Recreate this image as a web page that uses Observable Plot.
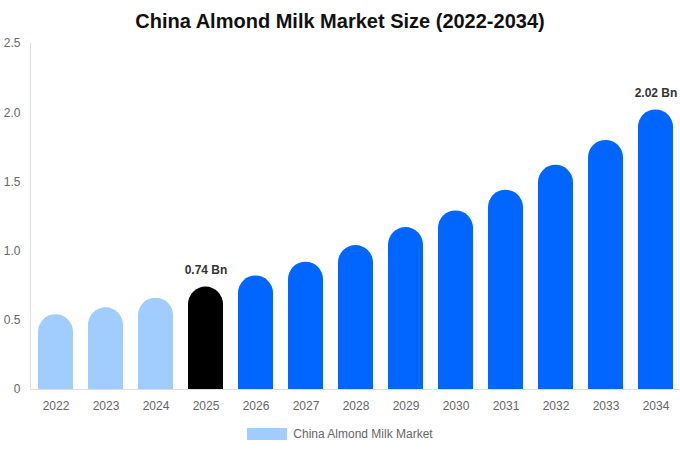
<!DOCTYPE html>
<html>
<head>
<meta charset="utf-8">
<script src="https://cdn.jsdelivr.net/npm/d3@7"></script>
<script src="https://cdn.jsdelivr.net/npm/@observablehq/plot@0.6"></script>
<style>
  body { margin: 0; background: #fff; font-family: "Liberation Sans", Arial, sans-serif; }
  #title { width: 680px; height: 36px; line-height: 42px; text-align: center; font-size: 20px; font-weight: bold; color: #111; }
  #legend { width: 680px; display: flex; justify-content: center; align-items: center; margin-top: 8px; font-size: 12px; color: #666; }
  #legend .sw { width: 40px; height: 12px; margin-right: 6px; }
</style>
</head>
<body>
<div id="title">China Almond Milk Market Size (2022-2034)</div>
<div id="chart"></div>
<div id="legend"><span class="sw"></span><span id="legtext"></span></div>
<script>
const years = ["2022","2023","2024","2025","2026","2027","2028","2029","2030","2031","2032","2033","2034"];
const values = [0.54, 0.59, 0.66, 0.74, 0.82, 0.92, 1.04, 1.17, 1.29, 1.44, 1.62, 1.80, 2.02];
const phases = ["hist","hist","hist","base","fore","fore","fore","fore","fore","fore","fore","fore","fore"];
const phaseNames = ["hist","base","fore"];
const phaseColors = ["#a0cdfd","#000000","#0066ff"];
const labeledYears = ["2025","2034"];
const yTicks = [0, 0.5, 1, 1.5, 2, 2.5];
const seriesName = "China Almond Milk Market";

const data = years.map((y, i) => ({year: y, value: values[i], phase: phases[i]}));

function roundTop(index, scales, vals, dims, ctx, next) {
  const g = next(index, scales, vals, dims, ctx);
  d3.select(g).selectAll("rect").each(function() {
    const x = +this.getAttribute("x"), y = +this.getAttribute("y");
    const w = +this.getAttribute("width"), h = +this.getAttribute("height");
    const r = Math.min(w / 2, h);
    const p = document.createElementNS("http://www.w3.org/2000/svg", "path");
    p.setAttribute("d", `M${x},${y + h}V${y + r}A${r},${r} 0 0 1 ${x + w},${y + r}V${y + h}Z`);
    p.setAttribute("fill", this.getAttribute("fill"));
    this.replaceWith(p);
  });
  return g;
}

const chart = Plot.plot({
  width: 680,
  height: 383,
  marginTop: 7,
  marginLeft: 30,
  marginRight: 0,
  marginBottom: 30,
  style: {fontFamily: "'Liberation Sans', Arial, sans-serif", fontSize: "12px", color: "#666", background: "#fff"},
  x: {domain: years, paddingInner: 0.3, paddingOuter: 0.15, label: null},
  y: {domain: [0, 2.5], label: null},
  color: {domain: phaseNames, range: phaseColors},
  marks: [
    Plot.frame({anchor: "left", stroke: "#ddd"}),
    Plot.barY(data, {x: "year", y: "value", fill: "phase", render: roundTop}),
    Plot.ruleY([0], {stroke: "#ddd"}),
    Plot.axisY({ticks: yTicks, tickSize: 0, tickPadding: 10, tickFormat: d => d === 0 ? "0" : d.toFixed(1), fill: "#666", fontSize: 12}),
    Plot.axisX({tickSize: 0, tickPadding: 12, fill: "#666", fontSize: 12}),
    Plot.text(data.filter(d => labeledYears.includes(d.year)), {
      x: "year", y: "value", text: d => d.value.toFixed(2) + " Bn",
      dy: -17, fontWeight: "bold", fontSize: 12, fill: "#333"
    })
  ]
});
document.getElementById("chart").appendChild(chart);
document.querySelector("#legend .sw").style.background = phaseColors[0];
document.getElementById("legtext").textContent = seriesName;
</script>
</body>
</html>
